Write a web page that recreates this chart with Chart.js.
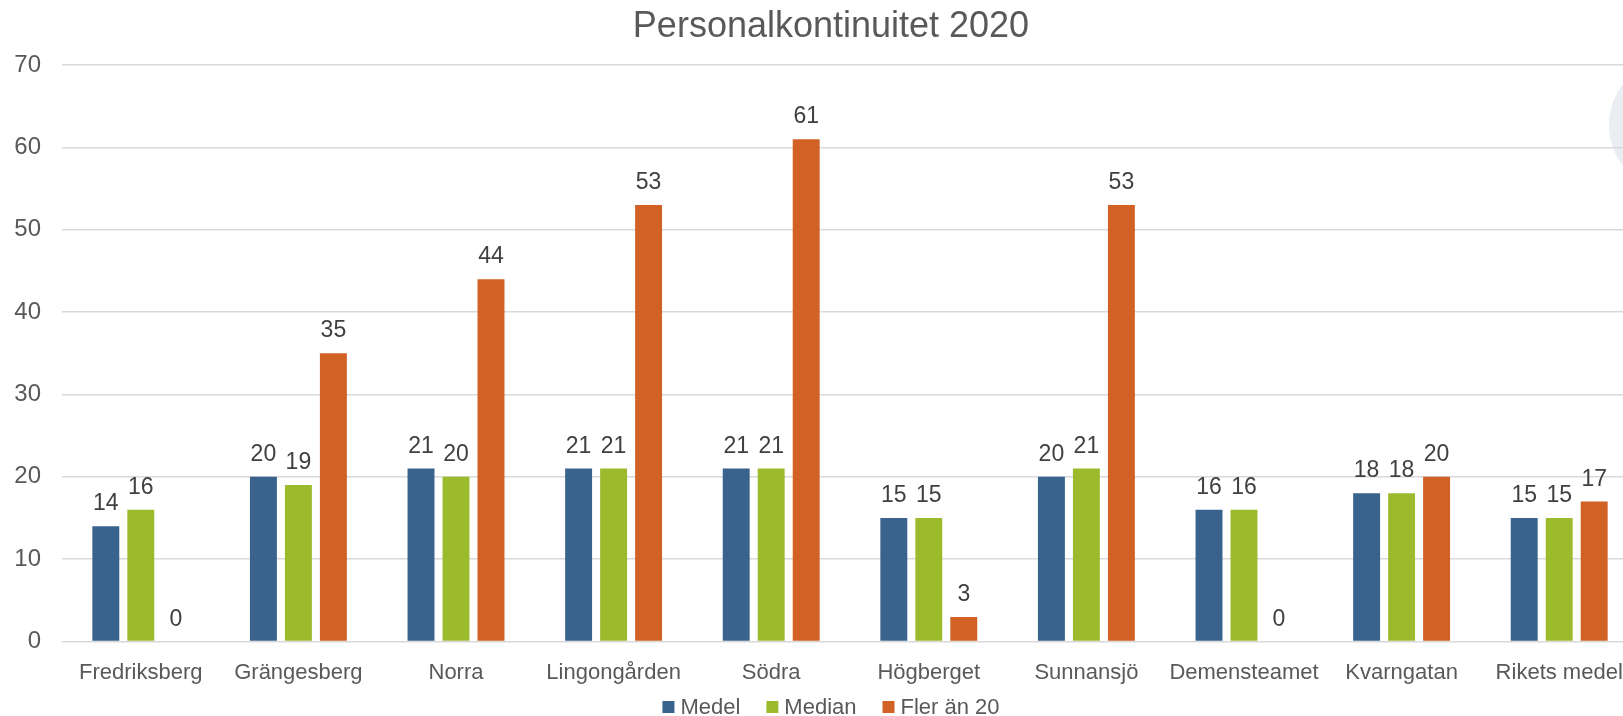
<!DOCTYPE html>
<html>
<head>
<meta charset="utf-8">
<script src="https://cdn.jsdelivr.net/npm/chart.js@4.4.1/dist/chart.umd.min.js"></script>
<style>
  html, body { margin: 0; padding: 0; background: #fff; overflow: hidden; }
  #wrap { position: relative; width: 1662px; height: 716px; }
  #deco { position: absolute; left: 1609px; top: 58px; width: 134px; height: 134px; border-radius: 50%; background: #eaedf2; }
  #chart { position: absolute; left: 0; top: 0; }
</style>
</head>
<body>
<div id="wrap">
  <div id="deco"></div>
  <canvas id="chart"></canvas>
</div>
<script>
const categories = ["Fredriksberg", "Grängesberg", "Norra", "Lingongården", "Södra", "Högberget", "Sunnansjö", "Demensteamet", "Kvarngatan", "Rikets medel"];
const medel = [14, 20, 21, 21, 21, 15, 20, 16, 18, 15];
const median = [16, 19, 20, 21, 21, 15, 21, 16, 18, 15];
const flerAn20 = [0, 35, 44, 53, 61, 3, 53, 0, 20, 17];
const yTicks = [0, 10, 20, 30, 40, 50, 60, 70];
const chartTitle = "Personalkontinuitet 2020";

const TEXT = "#595959";
const FONT = "'Liberation Sans', Arial, sans-serif";
const CENTER_X = 831; // bilden är beskuren till höger, mitten ligger här

// etiketter ovanför staplarna, rubrik och förklaring
const extras = {
  id: "extras",
  afterDatasetsDraw(chart) {
    const ctx = chart.ctx;
    ctx.save();
    ctx.font = `23px ${FONT}`;
    ctx.fillStyle = "#404040";
    ctx.textAlign = "center";
    ctx.textBaseline = "alphabetic";
    chart.data.datasets.forEach((ds, i) => {
      chart.getDatasetMeta(i).data.forEach((bar, j) => {
        ctx.fillText(String(ds.data[j]), bar.x, bar.y - 16);
      });
    });

    ctx.font = `36px ${FONT}`;
    ctx.fillStyle = TEXT;
    ctx.textBaseline = "middle";
    ctx.fillText(chartTitle, CENTER_X, 27);

    // förklaring
    ctx.font = `22px ${FONT}`;
    ctx.textAlign = "left";
    const box = 12, gap = 6, spacing = 26, y = 707;
    const items = chart.data.datasets.map((ds) => ({ text: ds.label, color: ds.backgroundColor, w: ctx.measureText(ds.label).width }));
    const total = items.reduce((s, it) => s + box + gap + it.w, 0) + spacing * (items.length - 1);
    let x = CENTER_X - total / 2;
    items.forEach((it) => {
      ctx.fillStyle = it.color;
      ctx.fillRect(x, y - box / 2, box, box);
      ctx.fillStyle = TEXT;
      ctx.fillText(it.text, x + box + gap, y + 1);
      x += box + gap + it.w + spacing;
    });
    ctx.restore();
  },
};

new Chart(document.getElementById("chart"), {
  type: "bar",
  data: {
    labels: categories,
    datasets: [
      { label: "Medel", data: medel, backgroundColor: "#39638d" },
      { label: "Median", data: median, backgroundColor: "#9bbb2d" },
      { label: "Fler än 20", data: flerAn20, backgroundColor: "#d16125" },
    ],
  },
  options: {
    responsive: true,
    maintainAspectRatio: false,
    animation: false,
    categoryPercentage: 0.666,
    barPercentage: 0.77,
    layout: { padding: { left: 0, right: 24, top: 65, bottom: 20 } },
    plugins: {
      title: { display: false },
      legend: { display: false },
      tooltip: { enabled: false },
    },
    scales: {
      x: {
        grid: { display: false },
        border: { display: false },
        ticks: { color: TEXT, font: { family: FONT, size: 22 }, padding: 10, maxRotation: 0, autoSkip: false },
      },
      y: {
        min: 0,
        max: 70,
        afterBuildTicks(scale) { scale.ticks = yTicks.map((v) => ({ value: v })); },
        afterFit(scale) { scale.width = 62; },
        grid: { color: "#d9d9d9", lineWidth: 1.5, drawTicks: false },
        border: { display: false },
        ticks: { color: TEXT, font: { family: FONT, size: 24 }, padding: 21 },
      },
    },
  },
  plugins: [extras],
});
</script>
</body>
</html>
